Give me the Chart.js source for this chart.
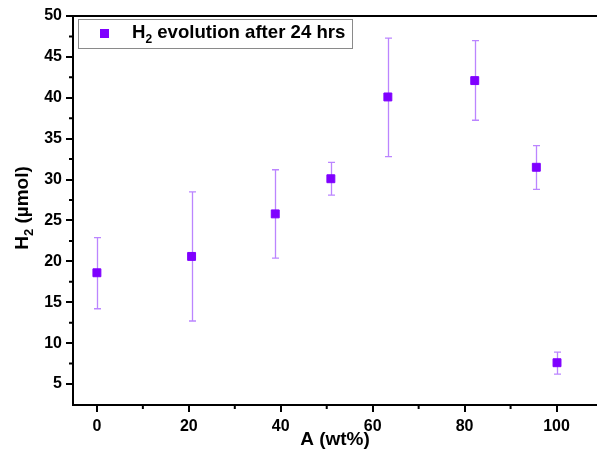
<!DOCTYPE html>
<html><head><meta charset="utf-8">
<script src="https://cdn.jsdelivr.net/npm/chart.js@4/dist/chart.umd.min.js"></script>
<style>html,body{margin:0;padding:0;background:#fff;overflow:hidden}</style>
</head><body>
<canvas id="c" width="597" height="454"></canvas>
<script>
// ---- data ----
const loadings = [0, 20.6, 38.8, 50.9, 63.3, 82.2, 95.6, 100.1];
const h2Mean   = [18.6, 20.6, 25.8, 30.1, 40.1, 42.1, 31.5, 7.6];
const h2Upper  = [22.9, 28.5, 31.2, 32.1, 47.3, 47.0, 34.15, 8.9];
const h2Lower  = [14.2, 12.7, 20.4, 28.1, 32.8, 37.25, 28.8, 6.2];
const xTicks = [0, 20, 40, 60, 80, 100];
const yTicks = [5, 10, 15, 20, 25, 30, 35, 40, 45, 50];
const xMinor = [10, 30, 50, 70, 90];
const yMinor = [7.5, 12.5, 17.5, 22.5, 27.5, 32.5, 37.5, 42.5, 47.5];
const legendLabel = ['H', '2', ' evolution after 24 hrs'];
const yTitle = ['H', '2', ' (\u00B5mol)'];
const xTitle = 'A (wt%)';

const FONT = '"Liberation Sans", Arial, sans-serif';
const VIOLET = '#7F00FF';
const ERR = '#BB85FF';

const deco = {
  id: 'deco',
  beforeDatasetsDraw(chart) {
    const ctx = chart.ctx, xs = chart.scales.x, ys = chart.scales.y;
    ctx.save();
    ctx.strokeStyle = ERR; ctx.lineWidth = 1.3;
    loadings.forEach((x, i) => {
      const px = Math.round(xs.getPixelForValue(x)) + 0.5;
      const pt = ys.getPixelForValue(h2Upper[i]);
      const pb = ys.getPixelForValue(h2Lower[i]);
      ctx.beginPath();
      ctx.moveTo(px, pt); ctx.lineTo(px, pb);
      ctx.moveTo(px - 3.5, pt); ctx.lineTo(px + 3.5, pt);
      ctx.moveTo(px - 3.5, pb); ctx.lineTo(px + 3.5, pb);
      ctx.stroke();
    });
    ctx.restore();
  },
  afterDraw(chart) {
    const ctx = chart.ctx, xs = chart.scales.x, ys = chart.scales.y;
    const a = chart.chartArea;
    ctx.save();
    // top frame
    ctx.strokeStyle = '#000'; ctx.lineWidth = 2;
    ctx.beginPath(); ctx.moveTo(a.left - 1, a.top); ctx.lineTo(a.right, a.top); ctx.stroke();
    // minor ticks
    ctx.beginPath();
    xMinor.forEach(v => { const p = xs.getPixelForValue(v); ctx.moveTo(p, a.bottom); ctx.lineTo(p, a.bottom + 4); });
    yMinor.forEach(v => { const p = ys.getPixelForValue(v); ctx.moveTo(a.left, p); ctx.lineTo(a.left - 4, p); });
    ctx.stroke();
    // legend
    ctx.strokeStyle = '#8a8a8a'; ctx.lineWidth = 1;
    ctx.strokeRect(78.5, 19.5, 274, 29);
    ctx.fillStyle = VIOLET;
    ctx.fillRect(100, 29, 9, 9);
    ctx.fillStyle = '#000'; ctx.textBaseline = 'alphabetic'; ctx.textAlign = 'left';
    let x = 132;
    ctx.font = 'bold 18.6px ' + FONT; ctx.fillText(legendLabel[0], x, 38); x += ctx.measureText(legendLabel[0]).width;
    ctx.font = 'bold 12px ' + FONT; ctx.fillText(legendLabel[1], x, 43); x += ctx.measureText(legendLabel[1]).width;
    ctx.font = 'bold 18.6px ' + FONT; ctx.fillText(legendLabel[2], x, 38);
    // x title
    ctx.font = 'bold 19px ' + FONT; ctx.textAlign = 'center';
    ctx.fillText(xTitle, 335, 445);
    // y title (rotated)
    ctx.translate(28, 208); ctx.rotate(-Math.PI / 2);
    ctx.textAlign = 'left';
    ctx.font = 'bold 19px ' + FONT; const w0 = ctx.measureText(yTitle[0]).width, w2 = ctx.measureText(yTitle[2]).width;
    ctx.font = 'bold 13px ' + FONT; const w1 = ctx.measureText(yTitle[1]).width;
    let t = -(w0 + w1 + w2) / 2;
    ctx.font = 'bold 19px ' + FONT; ctx.fillText(yTitle[0], t, 0); t += w0;
    ctx.font = 'bold 13px ' + FONT; ctx.fillText(yTitle[1], t, 5); t += w1;
    ctx.font = 'bold 19px ' + FONT; ctx.fillText(yTitle[2], t, 0);
    ctx.restore();
  }
};

new Chart(document.getElementById('c'), {
  type: 'scatter',
  data: {
    datasets: [{
      label: 'H2 evolution after 24 hrs',
      data: loadings.map((x, i) => ({ x: x, y: h2Mean[i] })),
      pointStyle: 'rect',
      pointRadius: 5.6,
      pointBorderWidth: 1,
      backgroundColor: VIOLET,
      borderColor: VIOLET
    }]
  },
  options: {
    responsive: false,
    animation: false,
    events: [],
    devicePixelRatio: 1,
    layout: { autoPadding: false, padding: { top: 16, right: 0, left: 0, bottom: 0 } },
    plugins: { legend: { display: false }, tooltip: { enabled: false } },
    scales: {
      x: {
        type: 'linear', min: -5.2, max: 108.8,
        afterBuildTicks: s => { s.ticks = xTicks.map(v => ({ value: v })); },
        afterFit: s => { s.height = 49; s.paddingLeft = 0; s.paddingRight = 0; },
        grid: { drawOnChartArea: false, drawTicks: true, tickLength: 7, color: '#000', lineWidth: 2 },
        border: { display: true, color: '#000', width: 2 },
        ticks: { color: '#000', font: { family: FONT, size: 16, weight: 'bold' }, padding: 5, maxRotation: 0 }
      },
      y: {
        type: 'linear', min: 2.43, max: 50,
        afterBuildTicks: s => { s.ticks = yTicks.map(v => ({ value: v })); },
        afterFit: s => { s.width = 73; s.paddingTop = 0; s.paddingBottom = 0; },
        grid: { drawOnChartArea: false, drawTicks: true, tickLength: 7, color: '#000', lineWidth: 2 },
        border: { display: true, color: '#000', width: 2 },
        ticks: { color: '#000', font: { family: FONT, size: 16, weight: 'bold' }, padding: 4 }
      }
    }
  },
  plugins: [deco]
});
</script>
</body></html>
